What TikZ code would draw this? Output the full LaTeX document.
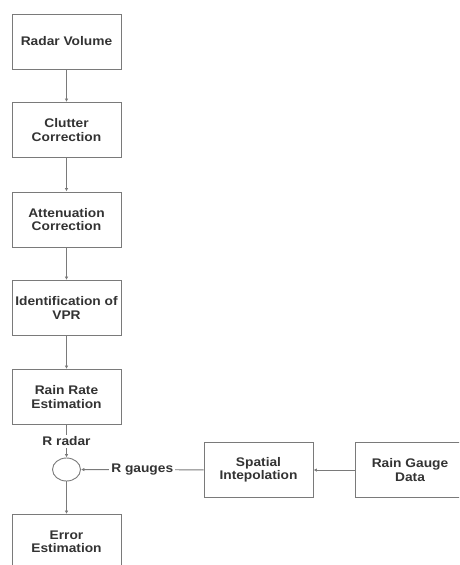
\documentclass[tikz,border=0pt]{standalone}
\usepackage{fontspec}
\setmainfont[FakeStretch=1.1]{Liberation Sans}
\usetikzlibrary{arrows.meta,shapes.geometric}
\definecolor{linegray}{HTML}{7A7A7A}
\definecolor{textgray}{HTML}{333333}
\tikzset{
  procbox/.style={draw=linegray, line width=0.9pt, minimum width=109pt, minimum height=55pt,
    align=center, text=textgray, font=\bfseries\fontsize{12.5}{13.5}\selectfont, inner sep=1pt},
  conn/.style={draw=linegray, line width=0.9pt, -{Latex[length=3.5pt,width=3.5pt]}},
  lbl/.style={fill=white, text=textgray, font=\bfseries\fontsize{12.5}{13.5}\selectfont, inner sep=2pt},
}
\begin{document}
\begin{tikzpicture}[x=1pt,y=-1pt]
\useasboundingbox (0,0) rectangle (459,565);
\clip (0,0) rectangle (459,565);
\node[procbox] (rv) at (66.5,41.5) {Radar Volume};
\node[procbox] (cc) at (66.5,130) {Clutter\\Correction};
\node[procbox] (ac) at (66.5,219.5) {Attenuation\\Correction};
\node[procbox] (vpr) at (66.5,308) {Identification of\\VPR};
\node[procbox] (rr) at (66.5,397) {Rain Rate\\Estimation};
\node[draw=linegray, line width=0.9pt, ellipse, minimum width=28pt, minimum height=23pt, inner sep=0pt] (sum) at (66.5,469.5) {};
\node[procbox] (ee) at (66.5,542) {Error\\Estimation};
\node[procbox] (si) at (258.5,470) {Spatial\\Intepolation};
\node[procbox] (rg) at (410,470) {Rain Gauge\\Data};
\draw[conn] (rv) -- (cc);
\draw[conn] (cc) -- (ac);
\draw[conn] (ac) -- (vpr);
\draw[conn] (vpr) -- (rr);
\draw[conn] (rr) -- node[lbl] (rradar) {R radar} (sum);
\draw[conn] (sum) -- (ee);
\draw[conn] (si) -- node[lbl] (rgauges) {R gauges} (sum);
\draw[conn] (rg) -- (si);
\end{tikzpicture}
\end{document}
